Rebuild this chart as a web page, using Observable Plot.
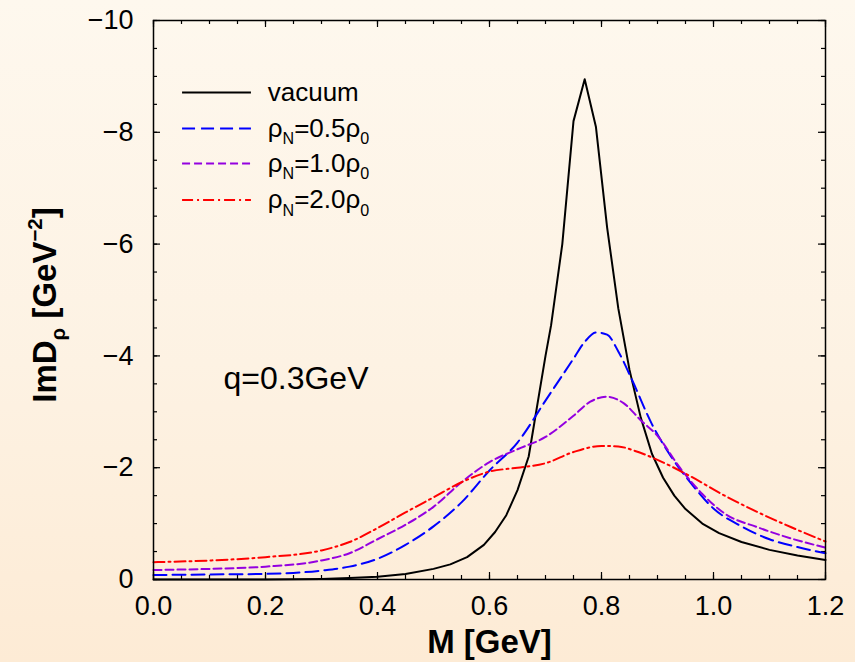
<!DOCTYPE html>
<html>
<head>
<meta charset="utf-8">
<script src="https://cdn.jsdelivr.net/npm/d3@7"></script>
<script src="https://cdn.jsdelivr.net/npm/@observablehq/plot@0.6"></script>
<style>
  html, body { margin: 0; padding: 0; }
  body { width: 855px; height: 662px; background: linear-gradient(to bottom, #fef8ee 0%, #fdf2e3 55%, #fdebd5 100%); overflow: hidden; }
  #chart svg { display: block; }
</style>
</head>
<body>
<div id="chart"></div>
<script>
// ---------- data ----------
const seriesNames = ["vacuum", "ρ_{N}=0.5ρ_{0}", "ρ_{N}=1.0ρ_{0}", "ρ_{N}=2.0ρ_{0}"];

const vacuumM   = [0.0, 0.1, 0.2, 0.25, 0.3, 0.35, 0.4, 0.45, 0.5, 0.53, 0.56, 0.59, 0.61, 0.63, 0.65, 0.67, 0.68, 0.69, 0.70, 0.71, 0.73, 0.75, 0.77, 0.79, 0.81, 0.83, 0.85, 0.87, 0.89, 0.91, 0.93, 0.95, 0.98, 1.01, 1.05, 1.1, 1.15, 1.2];
const vacuumImD = [0.0, 0.0, 0.0, -0.005, -0.01, -0.025, -0.05, -0.1, -0.19, -0.27, -0.4, -0.62, -0.85, -1.15, -1.6, -2.2, -2.8, -3.4, -4.0, -4.55, -6.0, -8.2, -8.95, -8.1, -6.3, -4.85, -3.75, -2.9, -2.25, -1.82, -1.5, -1.26, -1.0, -0.83, -0.67, -0.53, -0.43, -0.35];

const rho05M   = [0.0, 0.1, 0.2, 0.3, 0.35, 0.4, 0.45, 0.5, 0.55, 0.6, 0.65, 0.7, 0.75, 0.77, 0.79, 0.81, 0.83, 0.855, 0.89, 0.925, 0.96, 1.0, 1.05, 1.1, 1.15, 1.2];
const rho05ImD = [-0.08, -0.09, -0.1, -0.16, -0.23, -0.37, -0.62, -0.95, -1.38, -1.95, -2.45, -3.2, -3.95, -4.25, -4.42, -4.38, -4.08, -3.56, -2.78, -2.19, -1.72, -1.27, -0.95, -0.72, -0.58, -0.47];

const rho10M   = [0.0, 0.1, 0.2, 0.3, 0.35, 0.4, 0.45, 0.5, 0.55, 0.6, 0.65, 0.7, 0.75, 0.78, 0.81, 0.84, 0.87, 0.9, 0.94, 0.98, 1.02, 1.08, 1.14, 1.2];
const rho10ImD = [-0.17, -0.19, -0.23, -0.34, -0.47, -0.72, -0.98, -1.3, -1.74, -2.1, -2.33, -2.55, -2.93, -3.18, -3.27, -3.15, -2.85, -2.57, -2.0, -1.53, -1.18, -0.93, -0.73, -0.57];

const rho20M   = [0.0, 0.1, 0.2, 0.3, 0.35, 0.4, 0.45, 0.5, 0.55, 0.6, 0.65, 0.7, 0.75, 0.8, 0.83, 0.86, 0.9, 0.96, 1.02, 1.08, 1.14, 1.2];
const rho20ImD = [-0.31, -0.34, -0.4, -0.52, -0.67, -0.92, -1.2, -1.47, -1.74, -1.93, -2.0, -2.08, -2.28, -2.39, -2.38, -2.3, -2.14, -1.84, -1.5, -1.2, -0.93, -0.68];

const xTickValues = [0.0, 0.2, 0.4, 0.6, 0.8, 1.0, 1.2];
const yTickValues = [0, -2, -4, -6, -8, -10];
const annotation = "q=0.3GeV";
const xLabel = "M [GeV]";
const yLabel = "ImD_{ρ} [GeV^{−2}]";

// ---------- styles / layout ----------
const colors = ["#000000", "#0000ff", "#9400e0", "#ff0000"];
const dashes = [null, "13,6", "8,4", "11,4,2,4"];
const curves = ["linear", "monotone-x", "monotone-x", "monotone-x"];
const W = 855, H = 662, mL = 153, mR = 30, mT = 20, mB = 83;
const innerH = H - mT - mB;
const legendX1 = 0.051, legendX2 = 0.174, legendTextX = 0.204;
const legendY = [-8.71, -8.07, -7.44, -6.79];

const tables = [
  vacuumM.map((m, i) => ({M: m, v: vacuumImD[i]})),
  rho05M.map((m, i) => ({M: m, v: rho05ImD[i]})),
  rho10M.map((m, i) => ({M: m, v: rho10ImD[i]})),
  rho20M.map((m, i) => ({M: m, v: rho20ImD[i]}))
];

const xMinor = d3.range(0, 1.2001, 0.05);
const yMinor = d3.range(0, -10.0001, -0.5);

const marks = [];
// ticks (inward, on all four sides)
const tick = (vals, big) => {
  const L = big ? 7 : 4;
  marks.push(Plot.tickX(vals, {x: d => d, insetTop: innerH - L, stroke: "#000", strokeWidth: 1.2}));
  marks.push(Plot.tickX(vals, {x: d => d, insetBottom: innerH - L, stroke: "#000", strokeWidth: 1.2}));
};
tick(xMinor, false); tick(xTickValues, true);
const innerW = W - mL - mR;
const tickY = (vals, big) => {
  const L = big ? 7 : 4;
  marks.push(Plot.tickY(vals, {y: d => d, insetRight: innerW - L, stroke: "#000", strokeWidth: 1.2}));
  marks.push(Plot.tickY(vals, {y: d => d, insetLeft: innerW - L, stroke: "#000", strokeWidth: 1.2}));
};
tickY(yMinor, false); tickY(yTickValues, true);

marks.push(Plot.axisX({ticks: xTickValues, tickSize: 0, tickPadding: 16, tickFormat: d3.format(".1f"), fontSize: 27, label: null}));
marks.push(Plot.axisY({ticks: yTickValues, tickSize: 0, tickPadding: 20, tickFormat: d3.format("d"), fontSize: 27, label: null}));

// curves
tables.forEach((t, i) => {
  marks.push(Plot.line(t, {x: "M", y: "v", stroke: colors[i], strokeWidth: 2, strokeDasharray: dashes[i], curve: curves[i]}));
});

// legend
seriesNames.forEach((name, i) => {
  marks.push(Plot.link([legendY[i]], {x1: () => legendX1, x2: () => legendX2, y1: d => d, y2: d => d, stroke: colors[i], strokeWidth: 2, strokeDasharray: dashes[i]}));
  marks.push(Plot.text([legendY[i]], {x: () => legendTextX, y: d => d, text: () => name, textAnchor: "start", lineAnchor: "middle", fontSize: 26, fill: "#000"}));
});

// annotation
marks.push(Plot.text([annotation], {x: () => 0.125, y: () => -3.40, text: d => d, textAnchor: "start", lineAnchor: "bottom", fontSize: 32}));

// axis titles
marks.push(Plot.text([xLabel], {frameAnchor: "bottom", text: d => d, dy: 73, lineAnchor: "bottom", textAnchor: "middle", fontSize: 33, fontWeight: "bold"}));
marks.push(Plot.text([yLabel], {frameAnchor: "left", text: d => d, rotate: -90, dx: -98, dy: 5, lineAnchor: "bottom", textAnchor: "middle", fontSize: 33, fontWeight: "bold"}));

marks.push(Plot.frame({stroke: "#000", strokeWidth: 1.5}));

const chart = Plot.plot({
  width: W, height: H,
  marginLeft: mL, marginRight: mR, marginTop: mT, marginBottom: mB,
  x: {domain: [0, 1.2]},
  y: {domain: [0, -10]},
  style: {background: "transparent", fontFamily: "'Liberation Sans', Arial, Helvetica, sans-serif", color: "#000"},
  marks
});

// rich text: _{...} subscript, ^{...} superscript
function richify(el) {
  const s = el.textContent;
  if (!/[_^]\{/.test(s)) return;
  const fsAttr = el.closest("g").getAttribute("font-size") || "26";
  const fs = parseFloat(fsAttr);
  const parts = s.split(/(_\{[^}]*\}|\^\{[^}]*\})/).filter(p => p.length);
  el.textContent = "";
  let off = 0;
  const ns = "http://www.w3.org/2000/svg";
  for (const p of parts) {
    const t = document.createElementNS(ns, "tspan");
    if (p.startsWith("_{")) {
      const d = 0.28 * fs;
      t.setAttribute("font-size", (0.62 * fs) + "px");
      t.setAttribute("dy", (d - off) + "px"); off = d;
      t.textContent = p.slice(2, -1);
    } else if (p.startsWith("^{")) {
      const d = -0.42 * fs;
      t.setAttribute("font-size", (0.62 * fs) + "px");
      t.setAttribute("dy", (d - off) + "px"); off = d;
      t.textContent = p.slice(2, -1);
    } else {
      if (off) t.setAttribute("dy", (-off) + "px");
      off = 0;
      t.textContent = p;
    }
    el.appendChild(t);
  }
}
chart.querySelectorAll("text").forEach(richify);

document.getElementById("chart").appendChild(chart);
</script>
</body>
</html>
